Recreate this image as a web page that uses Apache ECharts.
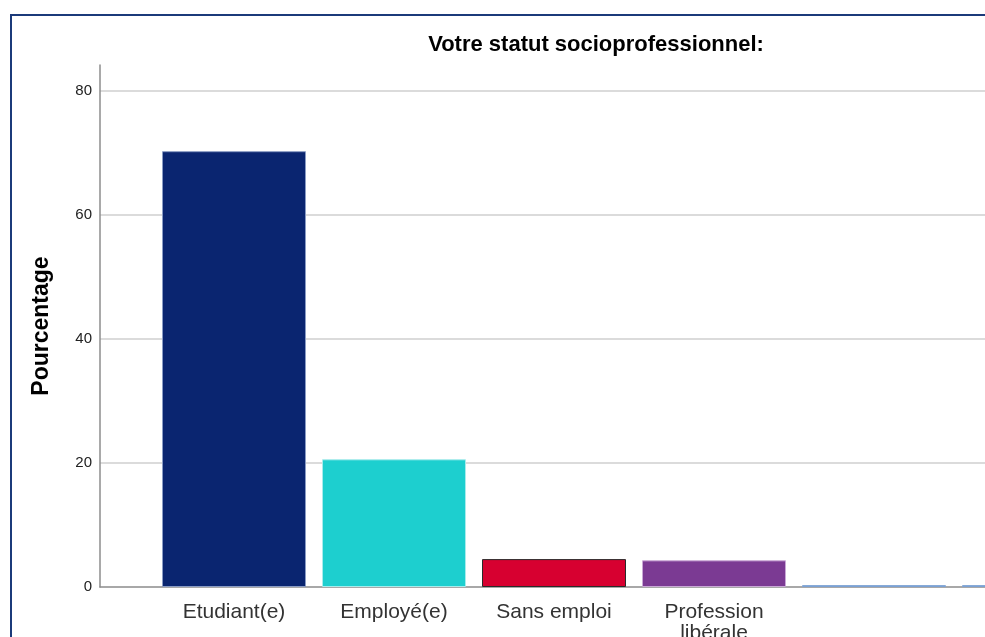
<!DOCTYPE html>
<html>
<head>
<meta charset="utf-8">
<script src="https://cdn.jsdelivr.net/npm/echarts@6/dist/echarts.min.js"></script>
<style>
  html, body { margin: 0; padding: 0; width: 985px; height: 637px; overflow: hidden; background: #fff; }
  #chart { position: absolute; left: 0; top: 0; width: 1200px; height: 637px; }
  #frame {
    position: absolute; left: 10px; top: 14px; width: 1200px; height: 700px;
    border-top: 2px solid #1b3a7a; border-left: 2px solid #1b3a7a;
    pointer-events: none;
  }
</style>
</head>
<body>
<div id="chart"></div>
<div id="frame"></div>
<script>
// catégories et pourcentages
const categories = ["Etudiant(e)", "Employé(e)", "Sans emploi", "Profession\nlibérale", "", ""];
const percentages = [70.3, 20.6, 4.5, 4.3, 0.3, 0.3];
const barColors = ["#0a2570", "#1dcfcf", "#d70030", "#7b3a93", "#7ca2d4", "#7ca2d4"];
const barBorders = ["#8a9cc4", "#a8ecec", "#2a2a2a", "#c9a8d6", "#7ca2d4", "#7ca2d4"];
const yTicks = [0, 20, 40, 60, 80];

const chart = echarts.init(document.getElementById("chart"));

const option = {
  animation: false,
  title: {
    text: "Votre statut socioprofessionnel:",
    left: 596,
    top: 34,
    padding: 0,
    textAlign: "center",
    textStyle: {
      fontFamily: "Liberation Sans",
      fontSize: 22,
      fontWeight: "bold",
      color: "#000",
    },
  },
  grid: [
    // grille de fond : axe Y, lignes de repère, ligne de base
    { left: 100, right: 86, top: 65, bottom: 50, outerBoundsMode: "none" },
    // grille des barres, décalée comme dans SPSS
    { left: 154, right: 86, top: 65, bottom: 50, outerBoundsMode: "none" },
  ],
  xAxis: [
    {
      gridIndex: 0,
      type: "value",
      min: 0,
      max: 1,
      axisLine: { show: true, onZero: false, lineStyle: { color: "#8c8c8c", width: 1.5 } },
      axisTick: { show: false },
      axisLabel: { show: false },
      splitLine: { show: false },
    },
    {
      gridIndex: 1,
      type: "category",
      data: categories,
      axisLine: { show: false },
      axisTick: { show: false },
      axisLabel: {
        interval: 0,
        margin: 15,
        fontFamily: "Liberation Sans",
        fontSize: 21,
        lineHeight: 21,
        color: "#333",
      },
    },
  ],
  yAxis: [
    {
      gridIndex: 0,
      type: "value",
      min: 0,
      max: 84.2,
      interval: 20,
      name: "Pourcentage",
      nameLocation: "middle",
      nameRotate: 90,
      nameGap: 47,
      nameTextStyle: {
        fontFamily: "Liberation Sans",
        fontSize: 23,
        fontWeight: "bold",
        color: "#000",
      },
      axisLine: { show: true, lineStyle: { color: "#8c8c8c", width: 1.5 } },
      axisTick: { show: false },
      axisLabel: {
        margin: 8,
        showMaxLabel: false,
        fontFamily: "Liberation Sans",
        fontSize: 15,
        color: "#222",
        formatter: (v) => (yTicks.includes(v) ? String(v) : ""),
      },
      splitLine: {
        show: true,
        showMinLine: false,
        showMaxLine: false,
        lineStyle: { color: "#cfcfcf", width: 1.5 },
      },
    },
    {
      gridIndex: 1,
      type: "value",
      min: 0,
      max: 84.2,
      show: false,
      splitLine: { show: false },
    },
  ],
  series: [
    {
      type: "bar",
      xAxisIndex: 1,
      yAxisIndex: 1,
      barWidth: 144,
      data: percentages.map((v, i) => ({
        value: v,
        itemStyle: {
          color: barColors[i],
          borderColor: barBorders[i],
          borderWidth: 1,
        },
      })),
    },
  ],
};

chart.setOption(option);
</script>
</body>
</html>
